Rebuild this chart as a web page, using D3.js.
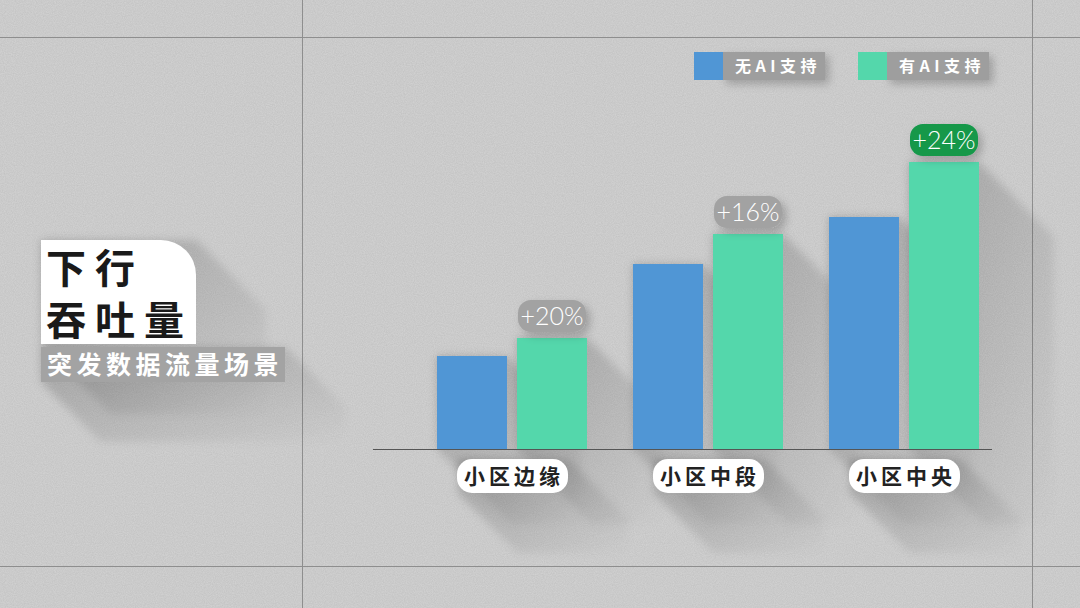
<!DOCTYPE html>
<html>
<head>
<meta charset="utf-8">
<script src="https://cdn.jsdelivr.net/npm/d3@7"></script>
<style>
  html, body { margin: 0; padding: 0; background: #d4d4d4; }
  svg { display: block; }
  text { font-family: "Noto Sans CJK SC", "Noto Sans", sans-serif; }
</style>
</head>
<body>
<div id="chart"></div>
<script>
(function(){
  'use strict';

  // data
  var categories = ["小区边缘", "小区中段", "小区中央"];
  var seriesNames = ["无AI支持", "有AI支持"];
  var noAI = [93, 185, 232];
  var withAI = [111, 215, 287];
  var gains = ["+20%", "+16%", "+24%"];
  var gainHighlight = [false, false, true];

  var W = 1080, H = 608;
  var colors = ["#5096d5", "#54d7ab"];

  var svg = d3.select("#chart").append("svg")
    .attr("width", W).attr("height", H);

  var defs = svg.append("defs");

  // grain texture for the background
  var grain = defs.append("filter").attr("id", "grain")
    .attr("x", 0).attr("y", 0).attr("width", "100%").attr("height", "100%");
  grain.append("feTurbulence").attr("type", "fractalNoise")
    .attr("baseFrequency", 0.9).attr("numOctaves", 2).attr("seed", 3);
  grain.append("feColorMatrix").attr("type", "matrix")
    .attr("values", "0 0 0 0 0  0 0 0 0 0  0 0 0 0 0  0 0 0 0.09 0");

  // long cast shadow gradient
  var grad = defs.append("linearGradient").attr("id", "castShadow")
    .attr("x1", 0).attr("y1", 0).attr("x2", 1).attr("y2", 1);
  grad.append("stop").attr("offset", "0%").attr("stop-color", "#000").attr("stop-opacity", 0.2);
  grad.append("stop").attr("offset", "100%").attr("stop-color", "#000").attr("stop-opacity", 0);

  var blur = defs.append("filter").attr("id", "soft")
    .attr("x", "-20%").attr("y", "-20%").attr("width", "140%").attr("height", "140%");
  blur.append("feGaussianBlur").attr("stdDeviation", 4);

  var drop = defs.append("filter").attr("id", "drop")
    .attr("x", "-30%").attr("y", "-30%").attr("width", "160%").attr("height", "180%");
  drop.append("feDropShadow").attr("dx", 4).attr("dy", 4).attr("stdDeviation", 4)
    .attr("flood-color", "#000").attr("flood-opacity", 0.22);

  svg.append("rect").attr("width", W).attr("height", H).attr("fill", "#d4d4d4");
  svg.append("rect").attr("width", W).attr("height", H).attr("filter", "url(#grain)");

  // frame lines
  var frame = svg.append("g").attr("stroke", "#8e8e8e").attr("stroke-width", 1);
  [37.5, 566.5].forEach(function(y){
    frame.append("line").attr("x1", 0).attr("x2", W).attr("y1", y).attr("y2", y);
  });
  [302.5, 1032.5].forEach(function(x){
    frame.append("line").attr("x1", x).attr("x2", x).attr("y1", 0).attr("y2", H);
  });

  // helper: cast shadow of a rectangle at 45 degrees
  function castShadow(g, x, y, w, h, L){
    var pts = [[x, y], [x + w, y], [x + w + L, y + L], [x + w + L, y + h + L], [x + L, y + h + L], [x, y + h]];
    g.append("polygon")
      .attr("points", pts.map(function(p){ return p.join(","); }).join(" "))
      .attr("fill", "url(#castShadow)")
      .attr("filter", "url(#soft)");
  }

  // scales
  var base = 449;
  var y = d3.scaleLinear().domain([0, 300]).range([base, base - 300]);
  var x0 = d3.scalePoint().domain(categories).range([512, 904]);
  var x1 = d3.scaleBand().domain(seriesNames).range([-75, 75]).paddingInner(0.125);

  var data = categories.map(function(c, i){
    return { cat: c, values: [noAI[i], withAI[i]], gain: gains[i], hi: gainHighlight[i] };
  });

  var shadows = svg.append("g");
  var chart = svg.append("g");

  data.forEach(function(d){
    d.values.forEach(function(v, j){
      var bx = x0(d.cat) + x1(seriesNames[j]);
      castShadow(shadows, bx, y(v), x1.bandwidth(), base - y(v), 75);
    });
    castShadow(shadows, x0(d.cat) - 54, 459, 110, 34, 60);
  });

  // baseline
  chart.append("line")
    .attr("x1", 373).attr("x2", 992).attr("y1", base + 0.5).attr("y2", base + 0.5)
    .attr("stroke", "#555").attr("stroke-width", 1.2);

  var groups = chart.selectAll("g.grp").data(data).enter().append("g")
    .attr("class", "grp")
    .attr("transform", function(d){ return "translate(" + x0(d.cat) + ",0)"; });

  groups.selectAll("rect.bar").data(function(d){ return d.values; }).enter().append("rect")
    .attr("class", "bar")
    .attr("x", function(v, j){ return x1(seriesNames[j]); })
    .attr("y", function(v){ return y(v); })
    .attr("width", x1.bandwidth())
    .attr("height", function(v){ return base - y(v); })
    .attr("fill", function(v, j){ return colors[j]; });

  // gain badges
  var badge = groups.append("g")
    .attr("transform", function(d){ return "translate(" + (x1(seriesNames[1]) + 1) + "," + (y(d.values[1]) - 38) + ")"; });
  badge.append("rect")
    .attr("width", 68).attr("height", 32).attr("rx", 13)
    .attr("fill", function(d){ return d.hi ? "#12984a" : "#a2a2a2"; })
    .attr("filter", "url(#drop)");
  badge.append("text")
    .attr("x", 34).attr("y", 25).attr("text-anchor", "middle")
    .attr("fill", "#fff").attr("font-size", 25).attr("font-weight", 300)
    .style("font-family", "Lato, 'Noto Sans', sans-serif")
    .text(function(d){ return d.gain; });

  // category pills
  var pill = groups.append("g").attr("transform", "translate(0,459)");
  pill.append("rect")
    .attr("x", -55).attr("width", 111).attr("height", 34).attr("rx", 15)
    .attr("fill", "#fff");
  pill.append("text")
    .attr("x", 2).attr("y", 25).attr("text-anchor", "middle")
    .attr("font-size", 21).attr("font-weight", 700).attr("fill", "#222")
    .attr("letter-spacing", 4)
    .text(function(d){ return d.cat; });

  // legend
  var legend = svg.append("g");
  var legX = [694, 858];
  seriesNames.forEach(function(s, i){
    var g = legend.append("g").attr("transform", "translate(" + legX[i] + ",52)");
    g.append("rect").attr("x", 28).attr("width", 103).attr("height", 28)
      .attr("fill", "#9e9e9e").attr("filter", "url(#drop)");
    g.append("rect").attr("width", 29).attr("height", 28).attr("fill", colors[i]);
    g.append("text").attr("x", 41).attr("y", 20)
      .attr("font-size", 16).attr("font-weight", 700).attr("fill", "#fff")
      .attr("letter-spacing", 4.5)
      .text(s);
  });

  // title block
  var title = svg.append("g");
  castShadow(title, 41, 240, 155, 104, 70);
  castShadow(title, 41, 347, 244, 35, 60);
  title.append("path")
    .attr("d", "M41,240 H161 A35,35 0 0 1 196,275 V344 H41 Z")
    .attr("fill", "#fff");
  title.append("text").attr("x", 46).attr("y", 283)
    .attr("font-size", 40).attr("font-weight", 700).attr("fill", "#1a1a1a")
    .attr("letter-spacing", 9).text("下行");
  title.append("text").attr("x", 46).attr("y", 335)
    .attr("font-size", 40).attr("font-weight", 700).attr("fill", "#1a1a1a")
    .attr("letter-spacing", 9).text("吞吐量");
  title.append("rect").attr("x", 41).attr("y", 347).attr("width", 244).attr("height", 35)
    .attr("fill", "#a3a3a3");
  title.append("text").attr("x", 47).attr("y", 374)
    .attr("font-size", 25).attr("font-weight", 700).attr("fill", "#fff")
    .attr("letter-spacing", 4.5).text("突发数据流量场景");

})();
</script>
</body>
</html>
